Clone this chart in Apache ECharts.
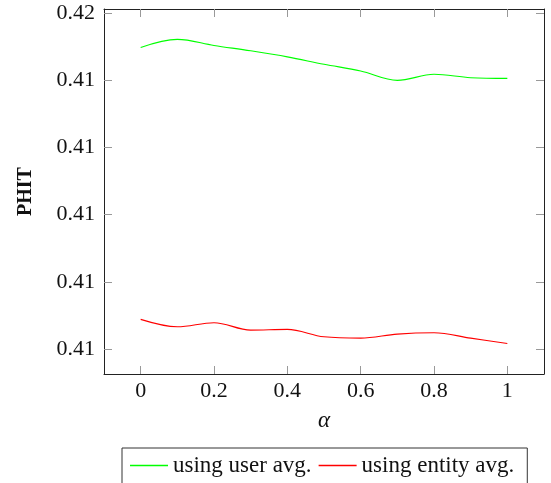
<!DOCTYPE html>
<html>
<head>
<meta charset="utf-8">
<script src="https://cdn.jsdelivr.net/npm/echarts@6/dist/echarts.min.js"></script>
<style>
  html, body { margin: 0; padding: 0; background: #fff; }
  #chart { width: 551px; height: 483px; }
</style>
</head>
<body>
<div id="chart"></div>
<script>
// Mixing weight alpha and the resulting PHIT for the two averaging schemes
const alphaValues = [0, 0.1, 0.2, 0.3, 0.4, 0.5, 0.6, 0.7, 0.8, 0.9, 1.0];
const userAvg   = [0.41449, 0.41461, 0.41452, 0.41444, 0.41435, 0.41424, 0.41414, 0.41400, 0.41409, 0.41404, 0.41403];
const entityAvg = [0.41044, 0.41033, 0.41039, 0.41028, 0.41029, 0.41018, 0.41016, 0.41022, 0.41024, 0.41016, 0.41008];

// Tick positions and the (two-decimal) labels printed at them
const xTickValues = [0, 0.2, 0.4, 0.6, 0.8, 1];
const xTickLabels = ['0', '0.2', '0.4', '0.6', '0.8', '1'];
const yTickValues = [0.410, 0.411, 0.412, 0.413, 0.414, 0.415];
const yTickLabels = ['0.41', '0.41', '0.41', '0.41', '0.41', '0.42'];

const seriesNames = ['using user avg.', 'using entity avg.'];

const serif = 'Liberation Serif';

function labelFor(values, labels) {
  return function (v) {
    for (let i = 0; i < values.length; i++) {
      if (Math.abs(values[i] - v) < 1e-7) return labels[i];
    }
    return '';
  };
}

const frameLine = { show: true, onZero: false, lineStyle: { color: '#222', width: 1 } };
const tickStyle = { show: true, inside: true, length: 8, lineStyle: { color: '#999', width: 1 } };

const xRange = { min: -0.1, max: 1.1 };
const yRange = { min: 0.409626, max: 0.415063 };

const chart = echarts.init(document.getElementById('chart'), null, { renderer: 'canvas' });

chart.setOption({
  animation: false,
  backgroundColor: '#fff',
  grid: { left: 104, top: 9, width: 440, height: 365, containLabel: false },
  legend: {
    data: seriesNames,
    left: 122,
    top: 448,
    orient: 'horizontal',
    borderColor: '#333',
    borderWidth: 1,
    padding: [6, 13, 12, 8],
    itemGap: 7,
    icon: 'rect',
    itemWidth: 38,
    itemHeight: 1.3,
    textStyle: { fontFamily: serif, fontSize: 23, color: '#111' }
  },
  xAxis: [
    {
      type: 'value', position: 'bottom', ...xRange,
      name: 'α', nameLocation: 'middle', nameGap: 35,
      nameTextStyle: { fontFamily: serif, fontStyle: 'italic', fontSize: 23, color: '#111' },
      axisLine: frameLine,
      axisTick: { ...tickStyle, customValues: xTickValues },
      axisLabel: {
        customValues: xTickValues, formatter: labelFor(xTickValues, xTickLabels),
        fontFamily: serif, fontSize: 22, color: '#111', margin: 6
      },
      splitLine: { show: false }
    },
    {
      type: 'value', position: 'top', ...xRange,
      axisLine: frameLine,
      axisTick: { ...tickStyle, customValues: xTickValues },
      axisLabel: { show: false },
      splitLine: { show: false }
    }
  ],
  yAxis: [
    {
      type: 'value', position: 'left', ...yRange,
      name: 'PHIT', nameLocation: 'middle', nameGap: 68, nameRotate: 90,
      nameTextStyle: { fontFamily: serif, fontWeight: 'bold', fontSize: 20, color: '#111' },
      axisLine: frameLine,
      axisTick: { ...tickStyle, customValues: yTickValues },
      axisLabel: {
        customValues: yTickValues, formatter: labelFor(yTickValues, yTickLabels),
        fontFamily: serif, fontSize: 22, color: '#111', margin: 9
      },
      splitLine: { show: false }
    },
    {
      type: 'value', position: 'right', ...yRange,
      axisLine: frameLine,
      axisTick: { ...tickStyle, customValues: yTickValues },
      axisLabel: { show: false },
      splitLine: { show: false }
    }
  ],
  series: [
    {
      name: seriesNames[0], type: 'line', xAxisIndex: 0, yAxisIndex: 0,
      data: alphaValues.map((a, i) => [a, userAvg[i]]),
      smooth: 0.35, symbol: 'none', color: '#00ff00',
      lineStyle: { color: '#00ff00', width: 1.1 }
    },
    {
      name: seriesNames[1], type: 'line', xAxisIndex: 0, yAxisIndex: 0,
      data: alphaValues.map((a, i) => [a, entityAvg[i]]),
      smooth: 0.35, symbol: 'none', color: '#ff0000',
      lineStyle: { color: '#ff0000', width: 1.1 }
    }
  ]
});
</script>
</body>
</html>
